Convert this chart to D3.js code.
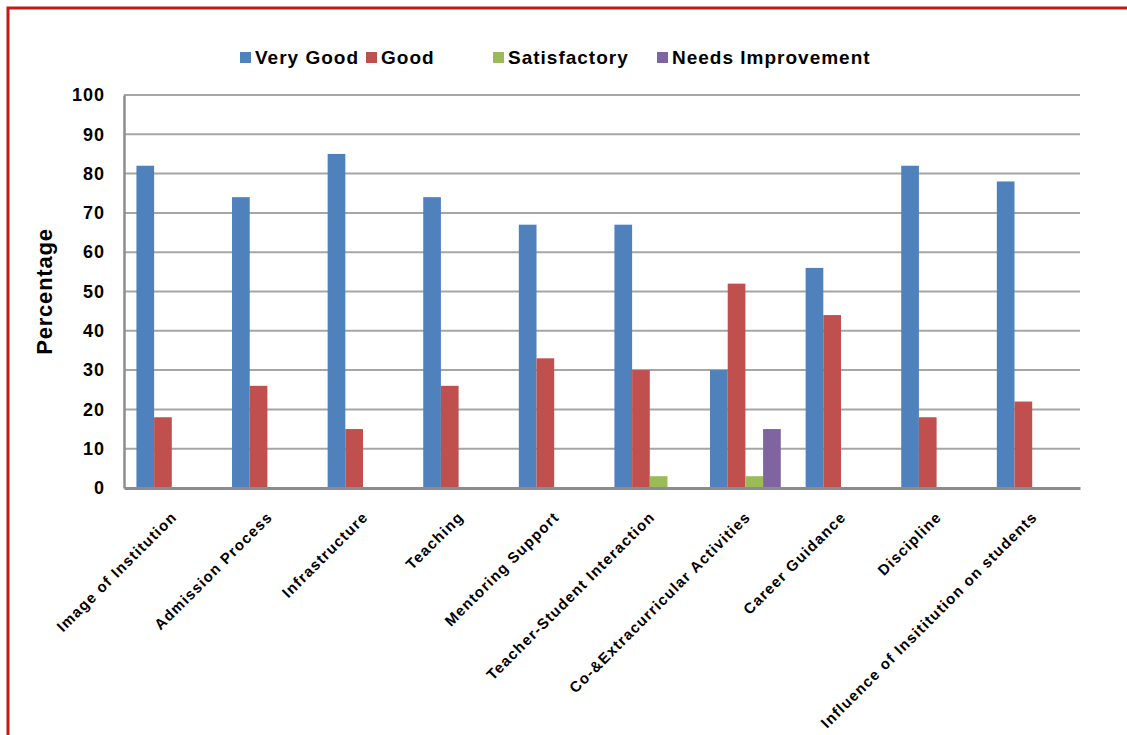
<!DOCTYPE html>
<html>
<head>
<meta charset="utf-8">
<script src="https://cdn.jsdelivr.net/npm/d3@7"></script>
<style>
  body { margin: 0; background: #fff; }
  svg text { font-family: "Liberation Sans", Arial, sans-serif; font-weight: bold; fill: #000; }
</style>
</head>
<body>
<svg class="canvas"></svg>
<script>
var categories = ["Image of Institution", "Admission Process", "Infrastructure", "Teaching",
  "Mentoring Support", "Teacher-Student Interaction", "Co-&Extracurricular Activities",
  "Career Guidance", "Discipline", "Influence of Insititution on students"];
var seriesNames = ["Very Good", "Good", "Satisfactory", "Needs Improvement"];
var veryGood = [82, 74, 85, 74, 67, 67, 30, 56, 82, 78];
var good = [18, 26, 15, 26, 33, 30, 52, 44, 18, 22];
var satisfactory = [0, 0, 0, 0, 0, 3, 3, 0, 0, 0];
var needsImprovement = [0, 0, 0, 0, 0, 0, 15, 0, 0, 0];
var yTicks = [0, 10, 20, 30, 40, 50, 60, 70, 80, 90, 100];
var colors = ["#4f81bd", "#c0504d", "#9bbb59", "#8064a2"];

var W = 1127, H = 735;
var plotLeft = 124, plotRight = 1080, plotTop = 95, plotBottom = 488;
var series = [veryGood, good, satisfactory, needsImprovement];

var svg = d3.select(".canvas").attr("width", W).attr("height", H);

// red frame (top and left edges visible)
svg.append("path")
  .attr("d", "M8,735 L8,8 L1127,8")
  .attr("fill", "none")
  .attr("stroke", "#c8161d")
  .attr("stroke-width", 3);

var x = d3.scaleBand().domain(categories).range([plotLeft, plotRight]);
var inner = d3.scaleBand().domain(seriesNames).range([0, x.bandwidth() * 0.74]);
var y = d3.scaleLinear().domain([0, 100]).range([plotBottom, plotTop]);

// gridlines
svg.append("g").selectAll("line")
  .data(yTicks.filter(function(d) { return d > 0; }))
  .enter().append("line")
  .attr("x1", plotLeft).attr("x2", plotRight)
  .attr("y1", function(d) { return y(d); })
  .attr("y2", function(d) { return y(d); })
  .attr("stroke", "#a6a6a6")
  .attr("stroke-width", 2);

// bars
var groups = svg.append("g").selectAll("g")
  .data(categories)
  .enter().append("g")
  .attr("transform", function(d) {
    return "translate(" + (x(d) + x.bandwidth() * 0.13) + ",0)";
  });

groups.selectAll("rect")
  .data(function(d, i) {
    return seriesNames.map(function(s, j) { return { s: s, v: series[j][i], c: colors[j] }; })
      .filter(function(e) { return e.v > 0; });
  })
  .enter().append("rect")
  .attr("x", function(d) { return inner(d.s); })
  .attr("width", inner.bandwidth())
  .attr("y", function(d) { return y(d.v); })
  .attr("height", function(d) { return plotBottom - y(d.v); })
  .attr("fill", function(d) { return d.c; });

// axes
var yAxis = d3.axisLeft(y).tickValues(yTicks).tickSize(0).tickPadding(19);
var gy = svg.append("g").attr("transform", "translate(" + plotLeft + ",0)").call(yAxis);
gy.select(".domain").attr("stroke", "#8c8c8c").attr("stroke-width", 2.5);
gy.selectAll("text").style("font-size", "18px").style("letter-spacing", "1px");

var xAxis = d3.axisBottom(x).tickSize(0).tickPadding(0);
var gx = svg.append("g").attr("transform", "translate(0," + plotBottom + ")").call(xAxis);
gx.select(".domain").attr("stroke", "#8c8c8c").attr("stroke-width", 3);
gx.selectAll("text")
  .style("font-size", "15px")
  .style("letter-spacing", "1.2px")
  .attr("text-anchor", "end")
  .attr("dy", null)
  .attr("transform", "translate(6,30) rotate(-45)");

svg.append("text")
  .attr("transform", "translate(52," + ((plotTop + plotBottom) / 2) + ") rotate(-90)")
  .attr("text-anchor", "middle")
  .style("font-size", "22px")
  .style("letter-spacing", "0.8px")
  .text("Percentage");

// legend
var legendX = [240, 366, 493, 657];
var legend = svg.append("g").selectAll("g")
  .data(seriesNames)
  .enter().append("g")
  .attr("transform", function(d, i) { return "translate(" + legendX[i] + ",52)"; });
legend.append("rect").attr("width", 11).attr("height", 11)
  .attr("fill", function(d, i) { return colors[i]; });
legend.append("text").attr("x", 15).attr("y", 12)
  .style("font-size", "19px")
  .style("letter-spacing", "1px")
  .text(function(d) { return d; });
</script>
</body>
</html>
